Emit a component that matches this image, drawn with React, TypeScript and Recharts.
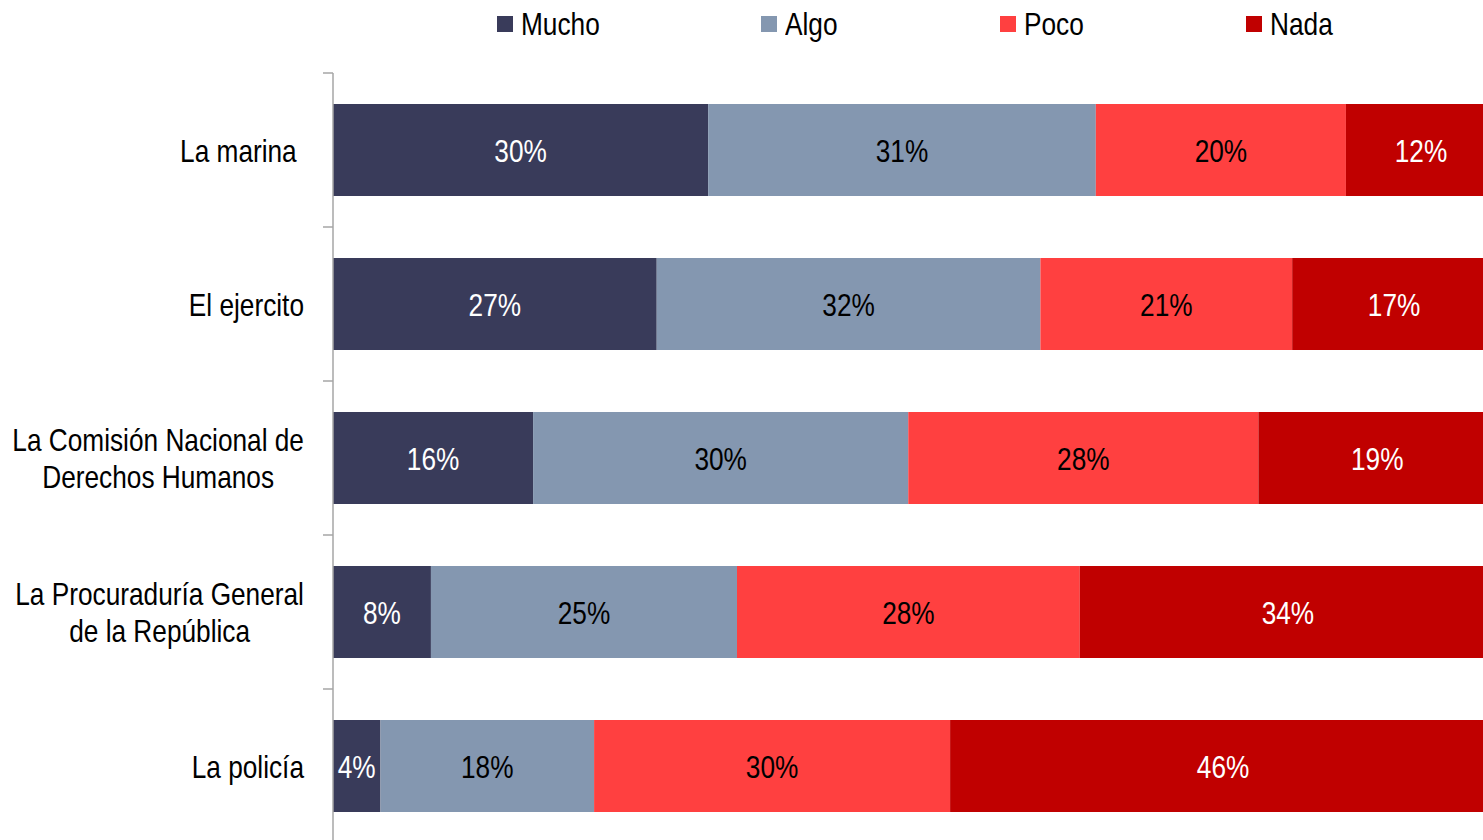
import { BarChart, Bar, XAxis, YAxis, Legend, LabelList } from "recharts";

const categories = [
  "La marina\u00A0",
  "El ejercito",
  "La Comisión Nacional de\nDerechos Humanos",
  "La Procuraduría General\nde la República",
  "La policía",
];
const seriesNames = ["Mucho", "Algo", "Poco", "Nada"];
const mucho = [30, 27, 16, 8, 4];
const algo = [31, 32, 30, 25, 18];
const poco = [20, 21, 28, 28, 30];
const nada = [12, 17, 19, 34, 46];

const data = categories.map((name, i) => ({
  name,
  mucho: mucho[i],
  algo: algo[i],
  poco: poco[i],
  nada: nada[i],
}));

const SERIES = [
  { key: "mucho", color: "#393B5A", text: "#ffffff" },
  { key: "algo", color: "#8497B0", text: "#000000" },
  { key: "poco", color: "#FF4040", text: "#000000" },
  { key: "nada", color: "#C00000", text: "#ffffff" },
];

// no Arial Narrow offline: Liberation Sans squeezed horizontally
const FONT = "'Liberation Sans', Arial, sans-serif";
const FONT_SIZE = 32;
const NARROW = 0.82;
const AXIS_COLOR = "#A6A6A6";

const CHART_W = 1500;
const CHART_H = 850;
const LEGEND_H = 73;
const MARGIN = { top: 0, right: 4, bottom: 7, left: 0 };
const Y_AXIS_W = 333;
const BAND = (CHART_H - MARGIN.top - MARGIN.bottom - LEGEND_H) / categories.length;
const LINE_H = 37;

let measureCtx: CanvasRenderingContext2D | null = null;
function measure(text: string) {
  if (!measureCtx) {
    measureCtx = document.createElement("canvas").getContext("2d");
  }
  if (!measureCtx) return text.length * 13;
  measureCtx.font = `${FONT_SIZE}px ${FONT}`;
  return measureCtx.measureText(text).width * NARROW;
}

function NarrowText({ x, y, anchor, fill, children }: any) {
  return (
    <text
      transform={`translate(${x} ${y}) scale(${NARROW} 1)`}
      textAnchor={anchor}
      dominantBaseline="central"
      fontFamily={FONT}
      fontSize={FONT_SIZE}
      fill={fill}
    >
      {children}
    </text>
  );
}

function CategoryTick(props: any) {
  const { x, y, payload } = props;
  const lines = String(payload.value).split("\n");
  const right = x - 29;
  const multi = lines.length > 1;
  const maxW = Math.max(...lines.map(measure));
  const tx = multi ? right - maxW / 2 : right;
  const y0 = y - ((lines.length - 1) * LINE_H) / 2;
  return (
    <g>
      {/* boundary tick between categories */}
      <line x1={x - 10} x2={x} y1={y - BAND / 2} y2={y - BAND / 2} stroke={AXIS_COLOR} strokeWidth={1.5} />
      {lines.map((l, i) => (
        <NarrowText key={i} x={tx} y={y0 + i * LINE_H + 1} anchor={multi ? "middle" : "end"} fill="#000">
          {l}
        </NarrowText>
      ))}
    </g>
  );
}

const makeBarLabel = (color: string) => (props: any) => {
  const { x, y, width, height, value } = props;
  return (
    <NarrowText x={x + width / 2} y={y + height / 2 + 1} anchor="middle" fill={color}>
      {`${value}%`}
    </NarrowText>
  );
};

function renderLegend() {
  return (
    <div
      style={{
        display: "flex",
        justifyContent: "center",
        gap: 162,
        height: LEGEND_H,
        paddingTop: 6,
        boxSizing: "border-box",
        fontFamily: FONT,
        fontSize: FONT_SIZE,
        color: "#000",
      }}
    >
      {SERIES.map((s, i) => (
        <div key={s.key} style={{ display: "flex", alignItems: "center", height: 36 }}>
          <span style={{ width: 16, height: 16, background: s.color, marginRight: 8, display: "inline-block" }} />
          <span style={{ display: "inline-block", width: measure(seriesNames[i]), lineHeight: "36px", whiteSpace: "nowrap" }}>
            <span style={{ display: "inline-block", transform: `scaleX(${NARROW})`, transformOrigin: "left center" }}>
              {seriesNames[i]}
            </span>
          </span>
        </div>
      ))}
    </div>
  );
}

export default function App() {
  return (
    <div
      style={{
        position: "absolute",
        left: 0,
        top: 0,
        width: 1483,
        height: 840,
        overflow: "hidden",
        background: "#fff",
      }}
    >
      <BarChart
        width={CHART_W}
        height={CHART_H}
        data={data}
        layout="vertical"
        stackOffset="expand"
        margin={MARGIN}
      >
        <Legend
          verticalAlign="top"
          content={renderLegend}
          wrapperStyle={{ left: Y_AXIS_W, top: 0, width: CHART_W - Y_AXIS_W - MARGIN.right }}
        />
        <XAxis type="number" domain={[0, 1]} hide />
        <YAxis
          type="category"
          dataKey="name"
          width={Y_AXIS_W}
          tickLine={false}
          tickSize={0}
          tickMargin={0}
          axisLine={{ stroke: AXIS_COLOR, strokeWidth: 1.5 }}
          tick={CategoryTick}
          interval={0}
        />
        {SERIES.map((s) => (
          <Bar
            key={s.key}
            dataKey={s.key}
            stackId="a"
            fill={s.color}
            barSize={92}
            isAnimationActive={false}
          >
            <LabelList dataKey={s.key} content={makeBarLabel(s.text)} />
          </Bar>
        ))}
      </BarChart>
    </div>
  );
}
